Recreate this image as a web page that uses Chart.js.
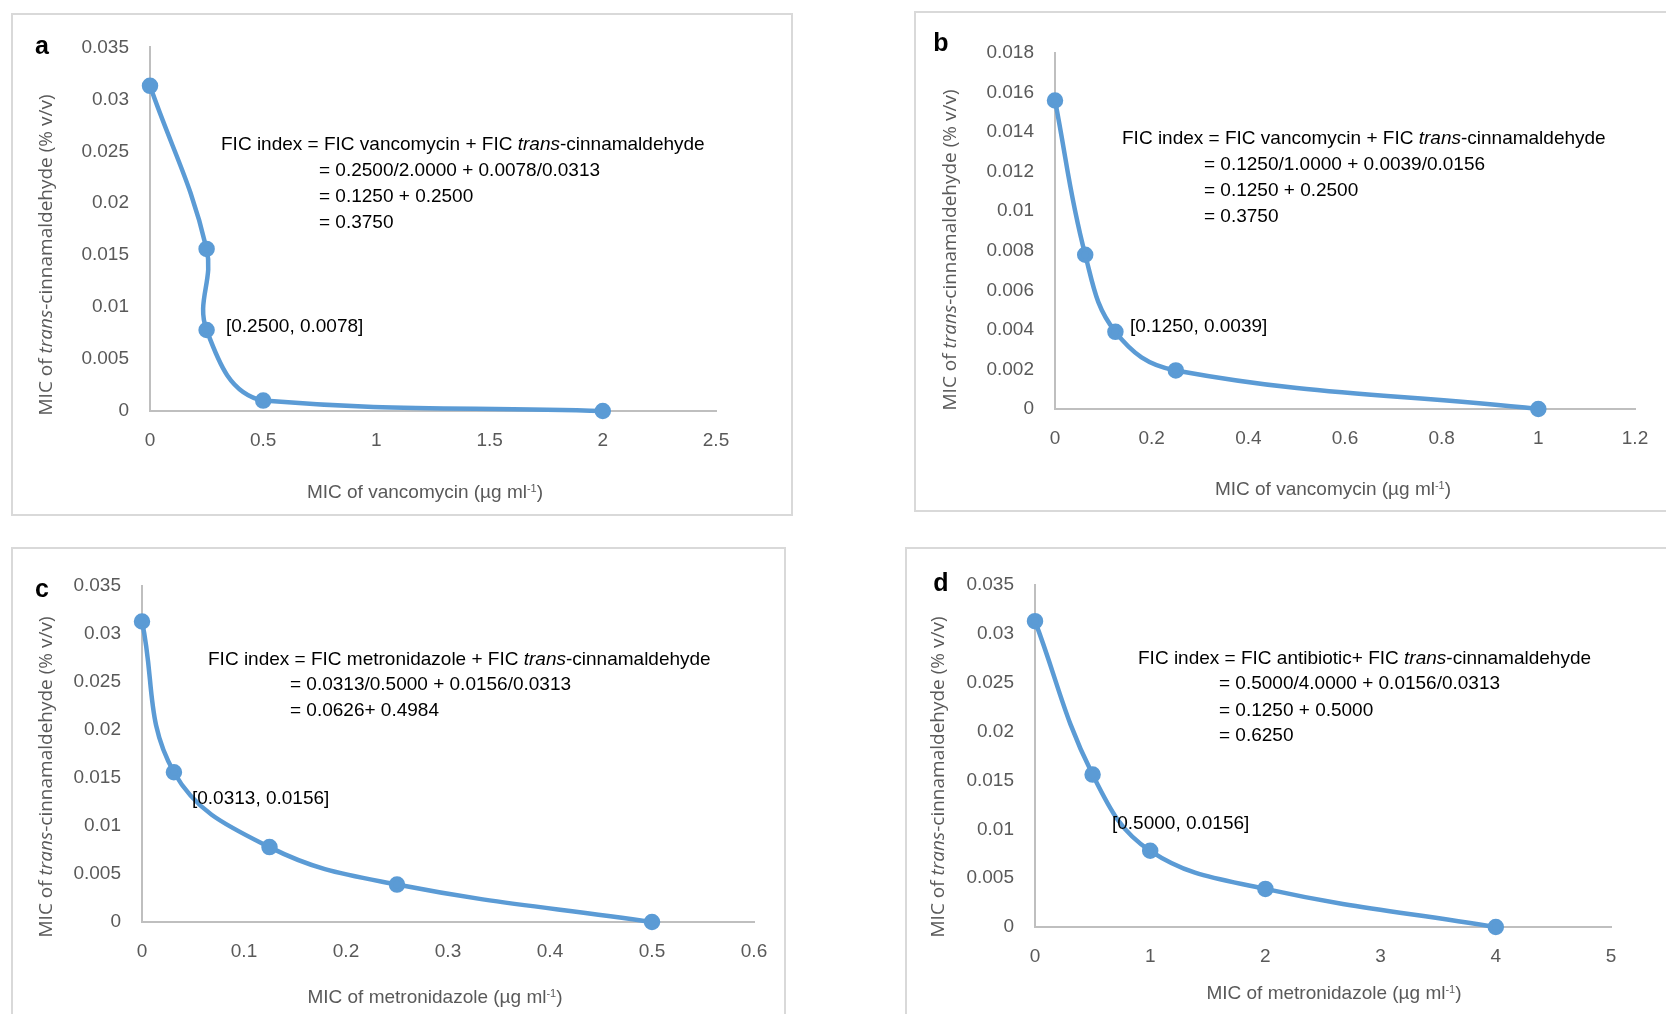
<!DOCTYPE html>
<html>
<head>
<meta charset="utf-8">
<script src="https://cdn.jsdelivr.net/npm/chart.js@4.4.1/dist/chart.umd.min.js"></script>
<style>
  body { margin: 0; width: 1666px; height: 1014px; background: #fff; overflow: hidden; position: relative; }
  .box { position: absolute; border: 2px solid #d9d9d9; box-sizing: border-box; }
  .box canvas { position: absolute; left: 0; top: 0; }
  .txt { position: absolute; font-family: "Liberation Sans Narrow", "Liberation Sans", sans-serif; font-size: 19px; color: #000; white-space: nowrap; transform: translateY(-50%); }
  .letter { position: absolute; font-family: "Liberation Sans", Arial, sans-serif; font-weight: bold; font-size: 25px; transform: translate(-50%, -50%); }
  .ytitle { position: absolute; font-family: "Open Sans", sans-serif; font-size: 19px; color: #595959; white-space: nowrap; transform: translate(-50%, -50%) rotate(-90deg); }
  .xtitle { position: absolute; font-family: "Liberation Sans Narrow", "Liberation Sans", sans-serif; font-size: 19px; color: #595959; white-space: nowrap; transform: translate(-50%, -50%); }
  sup { font-size: 11px; vertical-align: 6px; }
</style>
</head>
<body>
<script>
// values
const aX = [0, 0.25, 0.25, 0.5, 2];
const aY = [0.0313, 0.0156, 0.0078, 0.001, 0];
const bX = [0, 0.0625, 0.125, 0.25, 1];
const bY = [0.0156, 0.0078, 0.0039, 0.00195, 0];
const cX = [0, 0.0313, 0.125, 0.25, 0.5];
const cY = [0.0313, 0.0156, 0.0078, 0.0039, 0];
const dX = [0, 0.5, 1, 2, 4];
const dY = [0.0313, 0.0156, 0.0078, 0.0039, 0];

const aTicksX = { max: 2.5, step: 0.5 };
const aTicksY = { max: 0.035, step: 0.005 };
const bTicksX = { max: 1.2, step: 0.2 };
const bTicksY = { max: 0.018, step: 0.002 };
const cTicksX = { max: 0.6, step: 0.1 };
const cTicksY = { max: 0.035, step: 0.005 };
const dTicksX = { max: 5, step: 1 };
const dTicksY = { max: 0.035, step: 0.005 };

const BLUE = '#5b9bd5';
const TICK_FONT = { family: '"Liberation Sans Narrow", "Liberation Sans", sans-serif', size: 19 };

// Excel style labels: 0.03 not 0.030, 1 not 1.0
const fmt = v => String(+v.toFixed(4));

function addDiv(cls, html, x, y) {
  const d = document.createElement('div');
  d.className = cls;
  d.innerHTML = html;
  d.style.left = x + 'px';
  d.style.top = y + 'px';
  document.body.appendChild(d);
}

// box = outer frame, plot = chart area, both in page pixels
function makePanel(box, plot, xs, ys, tx, ty) {
  const div = document.createElement('div');
  div.className = 'box';
  div.style.left = box.l + 'px';
  div.style.top = box.t + 'px';
  div.style.width = (box.r - box.l) + 'px';
  div.style.height = (box.b - box.t) + 'px';
  document.body.appendChild(div);
  const cv = document.createElement('canvas');
  div.appendChild(cv);
  const w = box.r - box.l, h = box.b - box.t;
  cv.style.width = w + 'px';
  cv.style.height = h + 'px';
  cv.width = w; cv.height = h;

  const pts = xs.map((x, i) => ({ x: x, y: ys[i] }));
  new Chart(cv, {
    type: 'scatter',
    data: {
      datasets: [{
        data: pts,
        showLine: true,
        borderColor: BLUE,
        backgroundColor: BLUE,
        borderWidth: 4.5,
        pointRadius: 6,
        pointHoverRadius: 6,
        tension: 0.4,
        clip: false
      }]
    },
    options: {
      responsive: false,
      animation: false,
      devicePixelRatio: 1,
      layout: { padding: { left: 0, top: plot.t - box.t, right: box.r - plot.r, bottom: 0 } },
      plugins: { legend: { display: false }, tooltip: { enabled: false } },
      scales: {
        x: {
          type: 'linear', min: 0, max: tx.max,
          grid: { display: false, drawTicks: false },
          border: { display: true, color: '#bfbfbf', width: 2 },
          ticks: { stepSize: tx.step, padding: 18, color: '#595959', font: TICK_FONT, callback: fmt },
          afterFit: s => { s.height = box.b - plot.b; }
        },
        y: {
          type: 'linear', min: 0, max: ty.max,
          grid: { display: false, drawTicks: false },
          border: { display: true, color: '#bfbfbf', width: 2 },
          ticks: { stepSize: ty.step, padding: 21, color: '#595959', font: TICK_FONT, callback: fmt },
          afterFit: s => { s.width = plot.l - box.l; }
        }
      }
    }
  });
}

const trans = '<i>trans</i>';
const yTitle = 'MIC of ' + trans + '-cinnamaldehyde (% v/v)';

// panel a
makePanel({ l: 11, t: 13, r: 793, b: 516 }, { l: 148, t: 42, r: 714, b: 409 }, aX, aY, aTicksX, aTicksY);
addDiv('letter', 'a', 42, 45);
addDiv('ytitle', yTitle, 45, 255);
addDiv('xtitle', 'MIC of vancomycin (µg ml<sup>-1</sup>)', 425, 492);
addDiv('txt', 'FIC index = FIC vancomycin + FIC ' + trans + '-cinnamaldehyde', 221, 144);
addDiv('txt', '= 0.2500/2.0000 + 0.0078/0.0313', 319, 170);
addDiv('txt', '= 0.1250 + 0.2500', 319, 196);
addDiv('txt', '= 0.3750', 319, 222);
addDiv('txt', '[0.2500, 0.0078]', 226, 326);

// panel b
makePanel({ l: 914, t: 11, r: 1672, b: 512 }, { l: 1053, t: 51, r: 1633, b: 407 }, bX, bY, bTicksX, bTicksY);
addDiv('letter', 'b', 941, 42);
addDiv('ytitle', yTitle, 949, 250);
addDiv('xtitle', 'MIC of vancomycin (µg ml<sup>-1</sup>)', 1333, 489);
addDiv('txt', 'FIC index = FIC vancomycin + FIC ' + trans + '-cinnamaldehyde', 1122, 138);
addDiv('txt', '= 0.1250/1.0000 + 0.0039/0.0156', 1204, 164);
addDiv('txt', '= 0.1250 + 0.2500', 1204, 190);
addDiv('txt', '= 0.3750', 1204, 216);
addDiv('txt', '[0.1250, 0.0039]', 1130, 326);

// panel c
makePanel({ l: 11, t: 547, r: 786, b: 1030 }, { l: 140, t: 584, r: 752, b: 920 }, cX, cY, cTicksX, cTicksY);
addDiv('letter', 'c', 42, 588);
addDiv('ytitle', yTitle, 45, 777);
addDiv('xtitle', 'MIC of metronidazole (µg ml<sup>-1</sup>)', 435, 997);
addDiv('txt', 'FIC index = FIC metronidazole + FIC ' + trans + '-cinnamaldehyde', 208, 659);
addDiv('txt', '= 0.0313/0.5000 + 0.0156/0.0313', 290, 684);
addDiv('txt', '= 0.0626+ 0.4984', 290, 710);
addDiv('txt', '[0.0313, 0.0156]', 192, 798);

// panel d
makePanel({ l: 905, t: 547, r: 1672, b: 1030 }, { l: 1033, t: 583, r: 1609, b: 925 }, dX, dY, dTicksX, dTicksY);
addDiv('letter', 'd', 941, 582);
addDiv('ytitle', yTitle, 937, 777);
addDiv('xtitle', 'MIC of metronidazole (µg ml<sup>-1</sup>)', 1334, 993);
addDiv('txt', 'FIC index = FIC antibiotic+ FIC ' + trans + '-cinnamaldehyde', 1138, 658);
addDiv('txt', '= 0.5000/4.0000 + 0.0156/0.0313', 1219, 683);
addDiv('txt', '= 0.1250 + 0.5000', 1219, 710);
addDiv('txt', '= 0.6250', 1219, 735);
addDiv('txt', '[0.5000, 0.0156]', 1112, 823);
</script>
</body>
</html>
